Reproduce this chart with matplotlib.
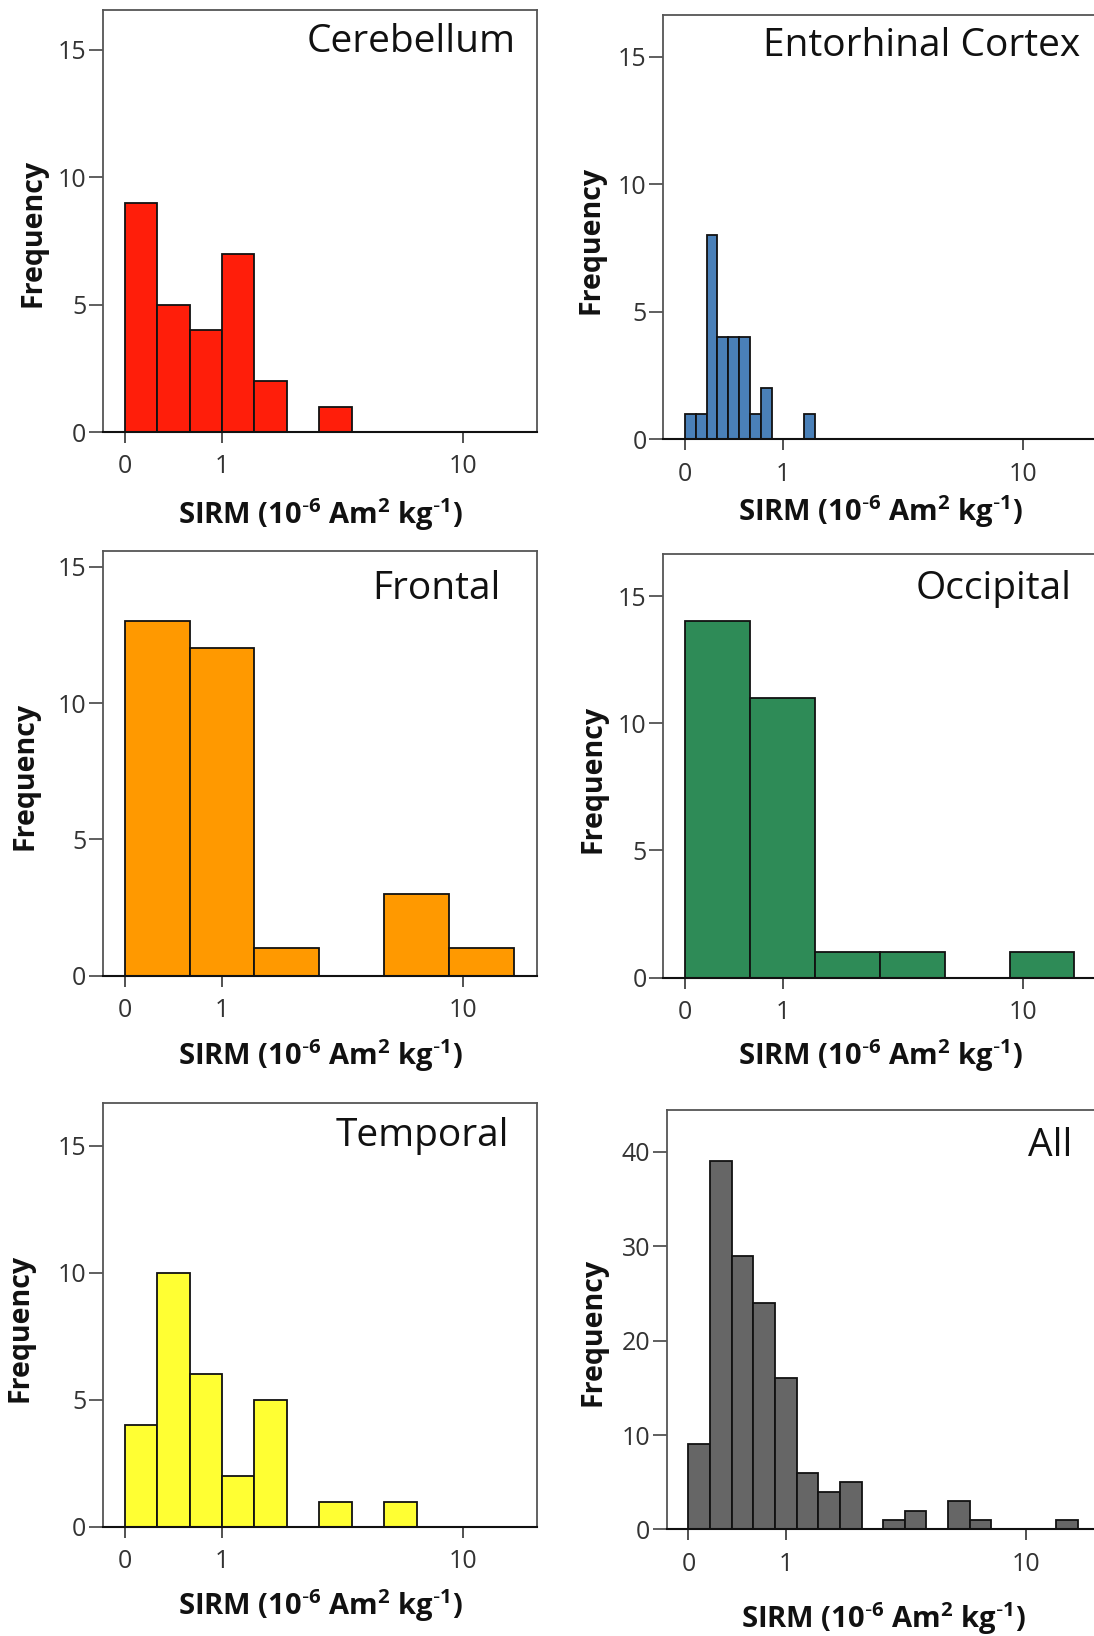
import numpy as np
import matplotlib
matplotlib.use('Agg')
import matplotlib.pyplot as plt

plt.rcParams['font.family'] = ['Open Sans', 'DejaVu Sans']
plt.rcParams['mathtext.default'] = 'regular'

# histogram data, bins are equal width on a log10(SIRM + 1) axis
regions = ['Cerebellum', 'Entorhinal Cortex', 'Frontal', 'Occipital', 'Temporal', 'All']
colors = ['#ff1e0a', '#4a80b8', '#ff9900', '#2e8b57', '#ffff33', '#666666']
bin_widths = [0.1, 1 / 30, 0.2, 0.2, 0.1, 1 / 15]
cerebellum = [9, 5, 4, 7, 2, 0, 1]
entorhinal = [1, 1, 8, 4, 4, 4, 1, 2, 0, 0, 0, 1]
frontal = [13, 12, 1, 0, 3, 1]
occipital = [14, 11, 1, 1, 0, 1]
temporal = [4, 10, 6, 2, 5, 0, 1, 0, 1]
all_regions = [9, 39, 29, 24, 16, 6, 4, 5, 0, 1, 2, 0, 3, 1, 0, 0, 0, 1]
counts = [cerebellum, entorhinal, frontal, occipital, temporal, all_regions]

x_ticks = [0, 1, 10]
y_tick_step = [5, 5, 5, 5, 5, 10]
y_max = [16.57, 16.66, 15.56, 16.64, 16.67, 44.47]

# layout in pixels: left, right, top, bottom(baseline)
W, H = 1094, 1636
boxes = [(102.9, 537.2, 9.5, 432.0),
         (663.2, 1097.5, 14.5, 439.4),
         (102.9, 537.2, 551.4, 975.7),
         (663.2, 1097.5, 554.3, 977.5),
         (102.9, 537.2, 1103.2, 1527.0),
         (666.7, 1101.0, 1109.8, 1529.4)]
title_inset = [22, 17, 37, 26, 28, 29]
title_drop = [43, 42, 48, 45, 43, 46]
ylab_off = [70, 72, 78, 70, 83, 74]
xlab_off = [83, 72, 80, 78, 79, 89]

def fwd(x):
    return np.log10(np.maximum(x, -0.99) + 1)

def inv(u):
    return 10 ** u - 1

fig = plt.figure(figsize=(W / 100, H / 100), dpi=100)

for i in range(6):
    l, r, t, b = boxes[i]
    ax = fig.add_axes([l / W, 1 - b / H, (r - l) / W, (b - t) / H])
    ax.set_xscale('function', functions=(fwd, inv))

    c = np.array(counts[i])
    edges = inv(np.arange(len(c) + 1) * bin_widths[i])
    keep = c > 0
    ax.bar(edges[:-1][keep], c[keep], width=np.diff(edges)[keep], align='edge',
           color=colors[i], edgecolor='#111111', linewidth=1.3, zorder=2)

    ax.set_xlim(inv(-0.067), inv(1.271))
    ax.set_ylim(0, y_max[i])
    ax.set_xticks(x_ticks)
    ax.set_xticklabels([str(v) for v in x_ticks])
    ax.set_yticks(np.arange(0, y_max[i], y_tick_step[i]))
    ax.minorticks_off()
    ax.tick_params(axis='x', length=8, width=1.2, pad=8, labelsize=18,
                   colors='#333333', labelcolor='#333333')
    ax.tick_params(axis='y', length=10, width=1.2, pad=2, labelsize=18,
                   colors='#444444', labelcolor='#333333')
    for side in ['left', 'top', 'right']:
        ax.spines[side].set_color('#555555')
        ax.spines[side].set_linewidth(1.3)
    ax.spines['bottom'].set_color('#111111')
    ax.spines['bottom'].set_linewidth(1.5)

    w_px, h_px = r - l, b - t
    ax.text(1 - title_inset[i] / w_px, 1 - title_drop[i] / h_px, regions[i],
            transform=ax.transAxes, ha='right', va='baseline', fontsize=28,
            color='#111111')
    ax.text(-ylab_off[i] / w_px, 0.47, 'Frequency', transform=ax.transAxes,
            rotation=90, ha='center', va='center', fontsize=20.5,
            fontweight='bold', color='#111111')
    ax.text(0.5, -xlab_off[i] / h_px,
            r'SIRM (10$^{\text{-}6}$ Am$^{2}$ kg$^{\text{-}1}$)',
            transform=ax.transAxes, ha='center', va='center', fontsize=21,
            fontweight='bold', color='#111111')

fig.savefig('out.png', dpi=100)
